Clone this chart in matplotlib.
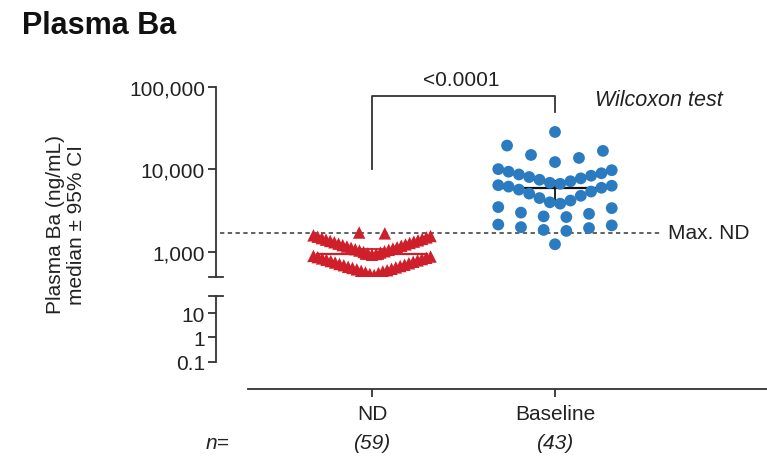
import numpy as np
import matplotlib
matplotlib.use('Agg')
import matplotlib.pyplot as plt
from matplotlib.transforms import blended_transform_factory
from math import comb

plt.rcParams['font.family'] = ['Liberation Sans', 'DejaVu Sans']

# data (ng/mL)
groups = ['ND', 'Baseline']
n_labels = ['(59)', '(43)']
nd_values = [525, 540, 555, 565, 580, 590, 600, 615, 625, 640, 650, 660, 675, 690,
             700, 715, 730, 745, 760, 775, 790, 805, 820, 835, 850, 865, 880, 895,
             925, 945, 965, 985, 1000, 1020, 1040, 1060, 1080, 1100, 1120, 1140,
             1165, 1190, 1210, 1235, 1260, 1285, 1310, 1335, 1360, 1385, 1410,
             1440, 1470, 1500, 1530, 1560, 1590,
             1680, 1720]
baseline_values = [1240,
                   1800, 1850, 1950, 2000, 2100, 2150,
                   2650, 2700, 2900, 3000, 3400, 3500,
                   3850, 4000, 4200, 4500, 4800, 5100, 5400, 5700, 6000, 6200, 6350, 6450,
                   6700, 6900, 7200, 7500, 7800, 8100, 8400, 8700, 9000, 9400, 9800, 10100,
                   12300, 13800, 15000, 16800, 19500,
                   28500]
p_text = '<0.0001'
upper_ticks = [1000, 10000, 100000]
upper_ticklabels = ['1,000', '10,000', '100,000']
lower_ticks = [0.1, 1, 10]
lower_ticklabels = ['0.1', '1', '10']

red = '#cf1f2b'
blue = '#2b7bc0'
axc = '#333333'
txtc = '#222222'
fs = 15


def swarm_x(vals, center, edges, max_step, half_width):
    # graphpad-like column scatter: bin by log value, lowest in middle
    logv = np.log10(vals)
    idx = np.digitize(logv, edges)
    xs = np.zeros(len(vals))
    for b in np.unique(idx):
        members = np.where(idx == b)[0]
        members = members[np.argsort(logv[members])]
        n = len(members)
        step = min(max_step, 2 * half_width / (n - 1)) if n > 1 else 0
        slots = (np.arange(n) - (n - 1) / 2) * step
        order = np.argsort(np.abs(slots) - 1e-9 * np.arange(n), kind='stable')
        for m, s in zip(members, slots[order]):
            xs[m] = center + s
    return xs


def median_ci(vals):
    v = np.sort(np.asarray(vals, dtype=float))
    n = len(v)
    cdf = np.cumsum([comb(n, k) for k in range(n + 1)]) / 2 ** n
    k = int(np.searchsorted(cdf, 0.025))
    return np.median(v), v[k], v[n - 1 - k]


nd = np.array(nd_values, dtype=float)
bl = np.array(baseline_values, dtype=float)

fig = plt.figure(figsize=(7.67, 4.6), dpi=100)
x0 = 216 / 767
ax = fig.add_axes([x0, 0.3961, 1 - x0, 0.4126])
axl = fig.add_axes([x0, 0.2109, 1 - x0, 0.1437])
xmin, xmax = (216 - 372) / 183, (767 - 372) / 183

for a in (ax, axl):
    a.set_xlim(xmin, xmax)
    a.set_yscale('log')
    a.spines['top'].set_visible(False)
    a.spines['right'].set_visible(False)
    a.spines['left'].set_color(axc)
    a.spines['left'].set_linewidth(1.3)
    a.tick_params(axis='y', which='major', direction='out', length=6, width=1.3,
                  color=axc, labelsize=fs, labelcolor=txtc, pad=2)
    a.tick_params(axis='y', which='minor', left=False)
    a.patch.set_alpha(0)

ax.set_ylim(500, 100000)
ax.spines['bottom'].set_visible(False)
ax.spines['left'].set_bounds(500, 100000)
ax.set_xticks([])
ax.set_yticks(upper_ticks)
ax.set_yticklabels(upper_ticklabels)

axl.set_ylim(0.1, 50)
axl.spines['left'].set_bounds(0.1, 50)
axl.set_yticks(lower_ticks)
axl.set_yticklabels(lower_ticklabels)
axl.spines['bottom'].set_position(('outward', 19.4))
axl.spines['bottom'].set_bounds((248 - 372) / 183, xmax)
axl.spines['bottom'].set_color(axc)
axl.spines['bottom'].set_linewidth(1.3)
axl.set_xticks([0, 1])
axl.set_xticklabels(groups)
axl.tick_params(axis='x', direction='out', length=6, width=1.3, color=axc,
                labelsize=fs, labelcolor=txtc, pad=5)

# break caps
cap = 0.04
ax.plot([xmin - cap, xmin + cap], [500, 500], color=axc, lw=1.3, clip_on=False)
axl.plot([xmin - cap, xmin + cap], [50, 50], color=axc, lw=1.3, clip_on=False)

# median +- 95% CI (under the points)
line_colors = [red, '#111111']
for i, v in enumerate([nd, bl]):
    med, lo, hi = median_ci(v)
    c = line_colors[i]
    ax.plot([i - 0.3, i + 0.3], [med, med], color=c, lw=1.6, zorder=2)
    ax.plot([i, i], [lo, hi], color=c, lw=1.3, zorder=2)
    ax.plot([i - 0.06, i + 0.06], [lo, lo], color=c, lw=1.3, zorder=2)
    ax.plot([i - 0.06, i + 0.06], [hi, hi], color=c, lw=1.3, zorder=2)

nd_x = swarm_x(nd, 0, [2.71, 2.96, 3.21, 3.46], 0.14, 0.32)
bl_x = swarm_x(bl, 1, [2.86, 3.10, 3.34, 3.58, 3.82, 4.06, 4.30, 4.54], 0.131, 0.31)
ax.scatter(nd_x, nd, marker='^', s=80, color=red, edgecolors='none', zorder=3)
ax.scatter(bl_x, bl, marker='o', s=72, color=blue, edgecolors='none', zorder=3)

# max ND line
max_nd = nd.max()
ax.plot([(220 - 372) / 183, (660 - 372) / 183], [max_nd, max_nd], color='#555555',
        lw=1.3, dashes=(2.4, 1.9), zorder=1)
ax.text((668 - 372) / 183, max_nd, 'Max. ND', fontsize=fs, color=txtc,
        va='center', ha='left')

# significance bracket
ax.plot([0, 0, 1, 1], [10140, 77800, 77800, 49770], color=axc, lw=1.3, clip_on=False)
ax.text(0.49, 125000, p_text, fontsize=fs, color=txtc, ha='center', va='center')
ax.text((595 - 372) / 183, 71500, 'Wilcoxon test', fontsize=15.5, color=txtc,
        style='italic', ha='left', va='center')

# n labels
tr = blended_transform_factory(axl.transData, fig.transFigure)
axl.text((218 - 372) / 183, 0.035, 'n=', transform=tr, fontsize=fs, color=txtc,
         style='italic', ha='center', va='center')
for i, lab in enumerate(n_labels):
    axl.text(i, 0.035, lab, transform=tr, fontsize=fs, color=txtc,
             style='italic', ha='center', va='center')

fig.text(66 / 767, 0.511, 'Plasma Ba (ng/mL)\nmedian ± 95% CI', rotation=90,
         fontsize=fs, color=txtc, ha='center', va='center', multialignment='center',
         linespacing=1.15)
fig.text(22 / 767, 0.943, 'Plasma Ba', fontsize=22, fontweight='bold', color='#111111',
         ha='left', va='center')

fig.savefig('out.png', dpi=100)
